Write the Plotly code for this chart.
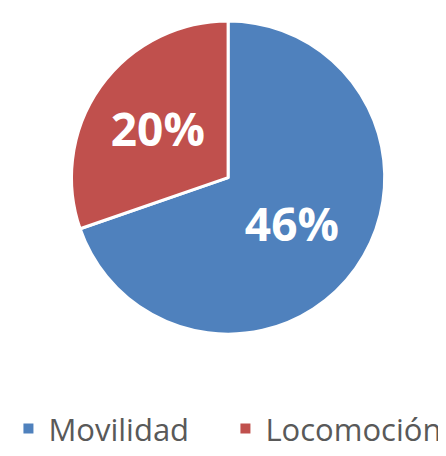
import plotly.graph_objects as go

labels = ["Movilidad", "Locomoción"]
values = [46, 20]
colors = ["#4F81BD", "#C0504D"]

fig = go.Figure(
    data=[
        go.Pie(
            labels=labels,
            values=values,
            sort=False,
            direction="clockwise",
            rotation=0,
            marker=dict(colors=colors, line=dict(color="white", width=3)),
            texttemplate="<b>%{value}%</b>",
            textposition="inside",
            insidetextorientation="horizontal",
            textfont=dict(family="Open Sans, sans-serif", size=46, color="white"),
            domain=dict(x=[0.005, 1.0], y=[0.245, 0.970]),
            hovertemplate="<b>%{label}</b><br>%{value}%<extra></extra>",
        )
    ]
)
fig.update_layout(
    width=438,
    height=448,
    margin=dict(l=0, r=0, t=0, b=0),
    paper_bgcolor="white",
    plot_bgcolor="white",
    showlegend=True,
    legend=dict(
        orientation="h",
        x=0.001,
        xanchor="left",
        y=0.026,
        yanchor="middle",
        font=dict(family="Open Sans, sans-serif", size=31, color="#595959"),
        itemsizing="constant",
        entrywidth=172,
    ),
)
fig.write_html("out.html")
